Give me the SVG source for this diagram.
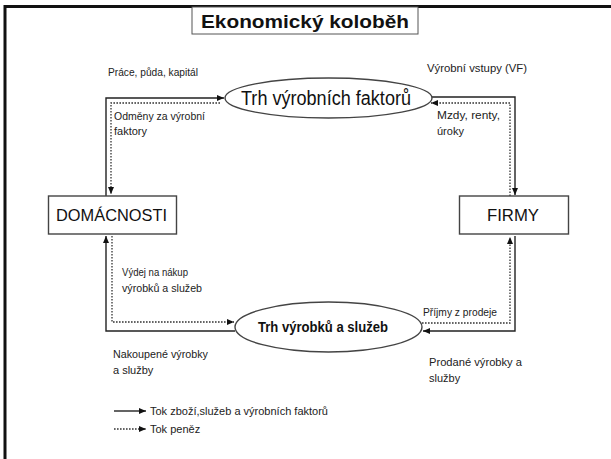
<svg xmlns="http://www.w3.org/2000/svg" width="611" height="459" viewBox="0 0 611 459">
<defs>
<marker id="ah" markerUnits="userSpaceOnUse" markerWidth="8" markerHeight="8" refX="7" refY="4" orient="auto">
<path d="M0,1 L7,4 L0,7 Z" fill="#111"/>
</marker>
<style>
.solid{fill:none;stroke:#222;stroke-width:1.4}
.dot{fill:none;stroke:#333;stroke-width:1.3;stroke-dasharray:1.6 1.4}
.lbl{font-family:"Liberation Sans",Arial,sans-serif;font-size:11px;fill:#222}
.node{fill:#fff;stroke:#444;stroke-width:1.4}
.big{font-family:"Liberation Sans",Arial,sans-serif;fill:#111}
</style>
</defs>
<rect width="611" height="459" fill="#fff"/>
<g id="frame">
<path d="M5,459 L5,6.5 L611,6.5" fill="none" stroke="#111" stroke-width="3"/>
</g>
<g id="title">
<rect x="192" y="7" width="226" height="27" fill="#fff" stroke="#555" stroke-width="1"/>
<text x="305" y="28" text-anchor="middle" class="big" font-size="19" font-weight="bold" textLength="208" lengthAdjust="spacingAndGlyphs">Ekonomický koloběh</text>
</g>
<g id="connectors">
<!-- top left -->
<path class="solid" d="M106,196 L106,98 L224,98" marker-end="url(#ah)"/>
<path class="dot" d="M220,103 L111,103 L111,194" marker-end="url(#ah)"/>
<!-- top right -->
<path class="solid" d="M431,97 L515,97 L515,195" marker-end="url(#ah)"/>
<path class="dot" d="M510,196 L510,103 L431,103" marker-end="url(#ah)"/>
<!-- bottom left -->
<path class="solid" d="M235,331 L106,331 L106,236" marker-end="url(#ah)"/>
<path class="dot" d="M112,236 L112,322 L234,322" marker-end="url(#ah)"/>
<!-- bottom right -->
<path class="solid" d="M515,236 L515,331 L423,331" marker-end="url(#ah)"/>
<path class="dot" d="M422,323 L510,323 L510,237" marker-end="url(#ah)"/>
</g>
<g id="trh-vyrobnich-faktoru">
<ellipse cx="328.5" cy="98" rx="103.5" ry="20" class="node"/>
<text x="326" y="105" text-anchor="middle" class="big" font-size="20" textLength="170" lengthAdjust="spacingAndGlyphs">Trh výrobních faktorů</text>
</g>
<g id="trh-vyrobku-a-sluzeb">
<ellipse cx="328.5" cy="327" rx="93.5" ry="25" class="node"/>
<text x="323" y="332" text-anchor="middle" class="big" font-size="14.5" font-weight="bold" textLength="130" lengthAdjust="spacingAndGlyphs">Trh výrobků a služeb</text>
</g>
<g id="domacnosti">
<rect x="48.5" y="196" width="128" height="38" class="node"/>
<text x="111.5" y="221" text-anchor="middle" class="big" font-size="17" textLength="111" lengthAdjust="spacingAndGlyphs">DOMÁCNOSTI</text>
</g>
<g id="firmy">
<rect x="459.5" y="196" width="109" height="38" class="node"/>
<text x="513" y="221" text-anchor="middle" class="big" font-size="17" textLength="52" lengthAdjust="spacingAndGlyphs">FIRMY</text>
</g>
<g id="labels">
<text x="108" y="76" class="lbl" textLength="90" lengthAdjust="spacingAndGlyphs">Práce, půda, kapitál</text>
<text x="427" y="72" class="lbl" textLength="100" lengthAdjust="spacingAndGlyphs">Výrobní vstupy (VF)</text>
<text x="114" y="120" class="lbl" textLength="91" lengthAdjust="spacingAndGlyphs">Odměny za výrobní</text>
<text x="114" y="135" class="lbl">faktory</text>
<text x="437" y="119" class="lbl" textLength="63" lengthAdjust="spacingAndGlyphs">Mzdy, renty,</text>
<text x="437" y="135" class="lbl">úroky</text>
<text x="122" y="276" class="lbl" textLength="66" lengthAdjust="spacingAndGlyphs">Výdej na nákup</text>
<text x="122" y="292" class="lbl" textLength="80" lengthAdjust="spacingAndGlyphs">výrobků a služeb</text>
<text x="423" y="316" class="lbl" textLength="74" lengthAdjust="spacingAndGlyphs">Příjmy z prodeje</text>
<text x="113" y="358" class="lbl" textLength="95" lengthAdjust="spacingAndGlyphs">Nakoupené výrobky</text>
<text x="113" y="374" class="lbl">a služby</text>
<text x="429" y="366" class="lbl" textLength="93" lengthAdjust="spacingAndGlyphs">Prodané výrobky a</text>
<text x="429" y="382" class="lbl">služby</text>
</g>
<g id="legend">
<path class="solid" d="M114,411 L146,411" marker-end="url(#ah)"/>
<text x="150" y="415" class="lbl" textLength="178" lengthAdjust="spacingAndGlyphs">Tok zboží,služeb a výrobních faktorů</text>
<path class="dot" d="M114,429 L146,429" marker-end="url(#ah)"/>
<text x="150" y="433" class="lbl">Tok peněz</text>
</g>
</svg>
